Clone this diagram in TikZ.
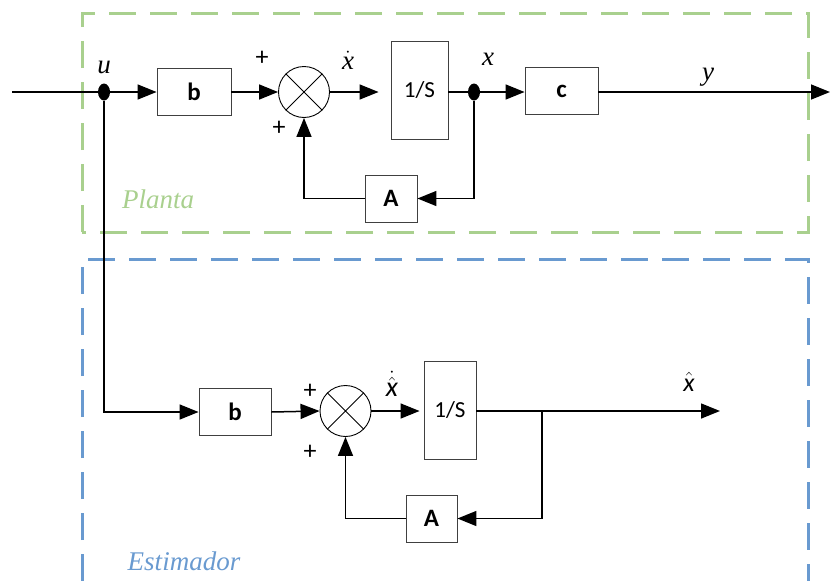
\documentclass[tikz,border=0pt]{standalone}
\usepackage{fontspec}
\setmainfont{Carlito}
\newfontfamily\tnr{Liberation Serif}
\newfontfamily\carl{Carlito}
\usetikzlibrary{arrows.meta,shapes.geometric}
\definecolor{plgreen}{RGB}{169,208,142}
\definecolor{esblue}{RGB}{105,154,208}
\tikzset{
  blk/.style={draw=black!75, line width=0.9pt, fill=white, font=\carl\bfseries\fontsize{25}{27}\selectfont, inner sep=0pt},
  intblk/.style={blk, font=\carl\fontsize{23}{25}\selectfont},
  sumj/.style={circle, draw=black, line width=0.9pt, minimum size=51pt, inner sep=0pt},
  jdot/.style={ellipse, fill=black, minimum width=12pt, minimum height=17pt, inner sep=0pt},
  wire/.style={line width=1.5pt},
  arr/.style={wire, -{Triangle[length=19pt,width=15pt]}},
  plus/.style={font=\carl\fontsize{26}{28}\selectfont, inner sep=0pt},
  sig/.style={font=\tnr\itshape\fontsize{27}{29}\selectfont, inner sep=0pt},
  sfsig/.style={inner sep=0pt},
  grp/.style={line width=3pt, dash pattern=on 27pt off 14pt},
  grplabel/.style={font=\tnr\itshape\fontsize{27}{30}\selectfont, inner sep=0pt}
}
\begin{document}
\begin{tikzpicture}[x=1pt,y=-1pt]
\useasboundingbox (0,0) rectangle (830,581);
% group frames
\draw[grp, plgreen] (82,232) -- (82,13) -- (808,13) -- (808,232) -- cycle;
\draw[grp, esblue] (82,581) -- (82,259) -- (808,259) -- (808,581);
\node[grplabel, text=plgreen] (planta) at (158,199) {Planta};
\node[grplabel, text=esblue] (estim) at (184,561) {Estimador};

% plant
\coordinate (in) at (12,92);
\node[jdot] (udot) at (104,92) {};
\node[blk, minimum width=74pt, minimum height=47pt] (b1) at (194,92) {b};
\node[sumj] (sum1) at (304,92) {};
\draw[line width=0.9pt] (sum1.north west) -- (sum1.south east) (sum1.north east) -- (sum1.south west);
\node[intblk, minimum width=57pt, minimum height=98pt] (int1) at (419.5,90) {1/S};
\node[jdot] (xdot) at (474,92) {};
\node[blk, minimum width=73pt, minimum height=47pt] (c1) at (561.5,91) {c};
\node[blk, minimum width=52pt, minimum height=47pt] (A1) at (391,198.5) {A};
\coordinate (out1) at (830,92);

\draw[wire] (in) -- (udot);
\draw[arr] (udot) -- (b1.west);
\draw[arr] (b1.east) -- (sum1.west);
\draw[arr] (sum1.east) -- ([xshift=-12pt]int1.west |- sum1.east);
\draw[wire] (int1.east |- xdot) -- (xdot);
\draw[arr] (xdot) -- (xdot -| c1.west);
\draw[arr] (c1.east |- xdot) -- (out1);
\draw[arr] (xdot) |- (A1.east);
\draw[arr] (A1.west) -| (sum1.south);

\node[sig] (lu) at (104,67) {u};
\node[plus] (p1) at (262,58) {+};
\node[plus] (p2) at (279,128) {+};
\node[inner sep=0pt, font=\fontsize{27}{29}\selectfont] (lxd) at (348,60) {$\dot{\hbox{\tnr\itshape x}}$};
\node[sig] (lx) at (488,59) {x};
\node[sig] (ly) at (708,77) {y};

% estimator
\node[blk, minimum width=72pt, minimum height=47pt] (b2) at (235,412) {b};
\node[sumj] (sum2) at (345.5,411) {};
\draw[line width=0.9pt] (sum2.north west) -- (sum2.south east) (sum2.north east) -- (sum2.south west);
\node[intblk, minimum width=52pt, minimum height=98pt] (int2) at (450,410) {1/S};
\node[blk, minimum width=51pt, minimum height=47pt] (A2) at (431.5,518.5) {A};
\coordinate (br) at (542,411);
\coordinate (out2) at (720,411);

\draw[arr] (udot) |- (b2.west);
\draw[arr] (b2.east) -- (sum2.west);
\draw[arr] (sum2.east) -- ([xshift=-4pt]int2.west |- sum2.east);
\draw[arr] (int2.east |- sum2.east) -- (out2);
\draw[arr] (br) |- (A2.east);
\draw[arr] (A2.west) -| (sum2.south);

\node[plus] (p3) at (310,391) {+};
\node[plus] (p4) at (310,452) {+};
\node[sfsig, font=\fontsize{28}{30}\selectfont] (lxhd) at (392,384) {$\dot{\hat{\hbox{\carl\itshape x}}}$};
\node[sfsig, font=\fontsize{26}{28}\selectfont] (lxh) at (689,382) {$\hat{\hbox{\carl\itshape x}}$};
\end{tikzpicture}
\end{document}
